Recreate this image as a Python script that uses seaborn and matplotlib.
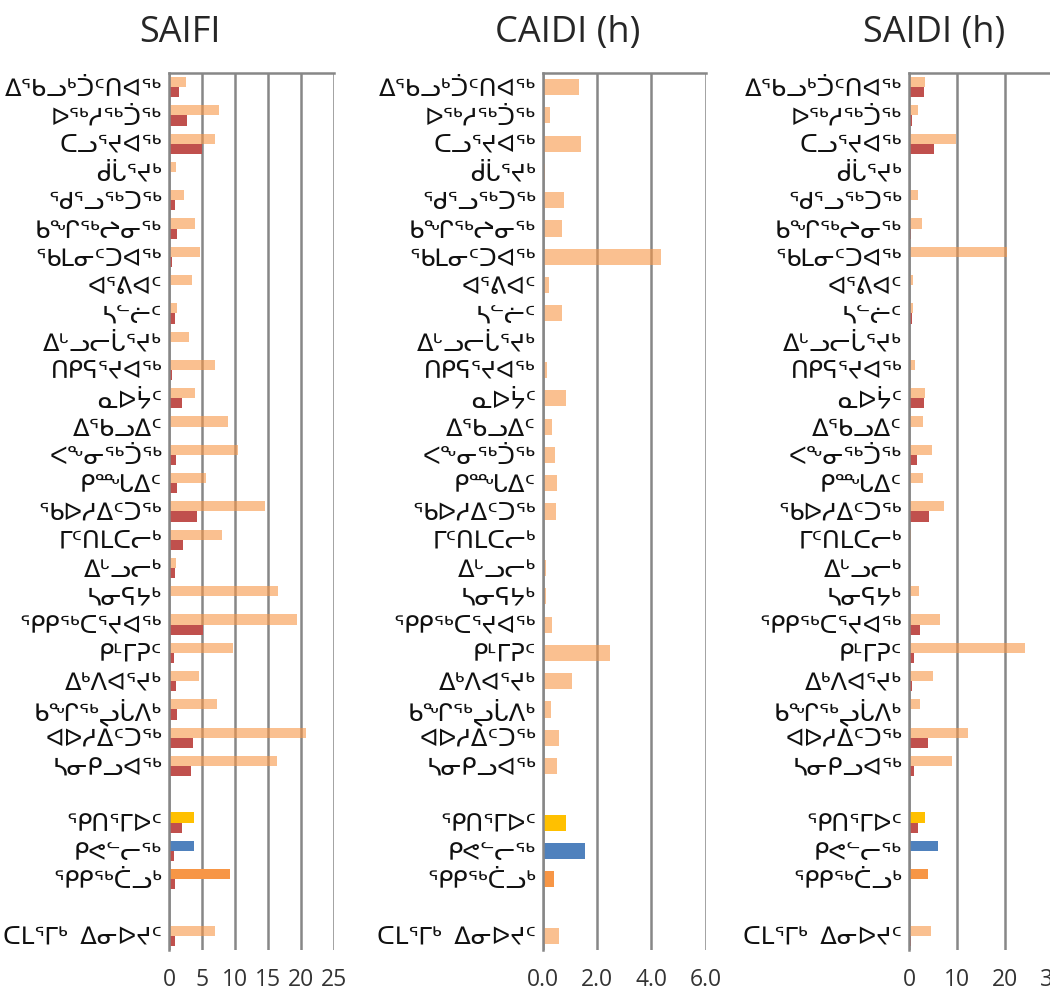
import numpy as np
import pandas as pd
import matplotlib
matplotlib.use("Agg")
import matplotlib.pyplot as plt
from matplotlib.ticker import FormatStrFormatter
import seaborn as sns

# ==================== DATA ====================
communities = ["ᐃᖃᓗᒃᑑᑦᑎᐊᖅ", "ᐅᖅᓱᖅᑑᖅ", "ᑕᓗᕐᔪᐊᖅ", "ᑰᒑᕐᔪᒃ", "ᖁᕐᓗᖅᑐᖅ",
               "ᑲᖏᖅᖠᓂᖅ", "ᖃᒪᓂᑦᑐᐊᖅ", "ᐊᕐᕕᐊᑦ", "ᓴᓪᓖᑦ", "ᐃᒡᓗᓕᒑᕐᔪᒃ",
               "ᑎᑭᕋᕐᔪᐊᖅ", "ᓇᐅᔮᑦ", "ᐃᖃᓗᐃᑦ", "ᐸᖕᓂᖅᑑᖅ", "ᑭᙵᐃᑦ",
               "ᖃᐅᓱᐃᑦᑐᖅ", "ᒥᑦᑎᒪᑕᓕᒃ", "ᐃᒡᓗᓕᒃ", "ᓴᓂᕋᔭᒃ", "ᕿᑭᖅᑕᕐᔪᐊᖅ",
               "ᑭᒻᒥᕈᑦ", "ᐃᒃᐱᐊᕐᔪᒃ", "ᑲᖏᖅᖢᒑᐱᒃ", "ᐊᐅᓱᐃᑦᑐᖅ", "ᓴᓂᑭᓗᐊᖅ"]
regions = ["ᕿᑎᕐᒥᐅᑦ", "ᑭᕙᓪᓕᖅ", "ᕿᑭᖅᑖᓗᒃ"]
total_label = "ᑕᒪᕐᒥᒃ  ᐃᓂᐅᔪᑦ"

places = communities + regions + [total_label]
# blank slots separate communities / regions / total
order = communities + [" "] + regions + ["  "] + [total_label]

saifi_all = [2.5, 7.5, 7.0, 1.0, 2.25, 3.95, 4.7, 3.55, 1.15, 3.0,
             7.0, 4.0, 9.0, 10.4, 5.6, 14.55, 8.0, 1.0, 16.45, 19.4,
             9.75, 4.6, 7.2, 20.7, 16.4,
             3.8, 3.85, 9.2,
             6.9]
saifi_sub = [1.5, 2.75, 5.0, 0.0, 0.95, 1.15, 0.4, 0.0, 0.95, 0.0,
             0.5, 2.0, 0.0, 1.0, 1.15, 4.25, 2.15, 0.95, 0.0, 5.15,
             0.75, 1.05, 1.25, 3.6, 3.35,
             1.9, 0.7, 0.95,
             0.95]
caidi_all = [1.33, 0.26, 1.41, 0.07, 0.79, 0.69, 4.36, 0.23, 0.69, 0.06,
             0.16, 0.85, 0.32, 0.46, 0.52, 0.48, 0.06, 0.10, 0.10, 0.32,
             2.48, 1.09, 0.30, 0.58, 0.52,
             0.85, 1.57, 0.40,
             0.60]
saidi_all = [3.35, 1.95, 9.85, 0.0, 1.8, 2.8, 20.5, 0.9, 0.75, 0.3,
             1.3, 3.4, 3.0, 4.9, 2.95, 7.4, 0.5, 0.1, 2.1, 6.5,
             24.2, 5.0, 2.3, 12.3, 9.0,
             3.3, 6.0, 3.9,
             4.5]
saidi_sub = [3.2, 0.7, 5.2, 0.0, 0.3, 0.35, 0.0, 0.0, 0.7, 0.0,
             0.0, 3.2, 0.0, 1.75, 0.0, 4.25, 0.3, 0.1, 0.0, 2.3,
             1.0, 0.7, 0.3, 4.0, 1.0,
             1.9, 0.3, 0.3,
             0.4]

PEACH = "#F79646"
DARK_RED = "#C0504D"
region_colors = {"ᕿᑎᕐᒥᐅᑦ": "#FFC000", "ᑭᕙᓪᓕᖅ": "#4F81BD", "ᕿᑭᖅᑖᓗᒃ": "#F79646"}
GRID = "#878787"

sns.set_style("white")
plt.rcParams['font.family'] = ['Open Sans', 'DejaVu Sans']


def long_df(first, second=None):
    rows = [(p, v, "all") for p, v in zip(places, first)]
    if second is not None:
        rows += [(p, v, "sub") for p, v in zip(places, second)]
    return pd.DataFrame(rows, columns=["place", "value", "series"])


def draw_panel(ax, df, xmax, step, fmt, width):
    hue_order = [s for s in ["all", "sub"] if s in df["series"].unique()]
    sns.barplot(data=df, y="place", x="value", hue="series", order=order,
                hue_order=hue_order, palette={"all": PEACH, "sub": DARK_RED},
                orient="h", width=width, saturation=1, legend=False,
                linewidth=0, ax=ax)
    # recolour first series: regions get their own colour, rest semi-transparent peach
    for bar in ax.containers[0]:
        idx = int(round(bar.get_y() + bar.get_height() / 2))
        name = order[idx]
        if name in region_colors:
            bar.set_facecolor(region_colors[name])
            bar.set_alpha(1.0)
        else:
            bar.set_facecolor(PEACH)
            bar.set_alpha(0.6)
    ax.set_xlim(0, xmax)
    ax.set_ylim(len(order) - 0.5, -0.5)
    ax.set_xticks(np.arange(0, xmax + step / 2, step))
    ax.xaxis.set_major_formatter(FormatStrFormatter(fmt))
    ax.set_xlabel("")
    ax.set_ylabel("")
    ax.set_axisbelow(True)
    ax.grid(axis="x", color=GRID, lw=1.8)
    ax.grid(axis="y", visible=False)
    for s in ["bottom", "right"]:
        ax.spines[s].set_visible(False)
    for s in ["top", "left"]:
        ax.spines[s].set_visible(True)
        ax.spines[s].set_color(GRID)
        ax.spines[s].set_linewidth(1.8)
    ax.set_yticks(np.arange(-0.5, len(order)), minor=True)
    ax.tick_params(axis="y", which="major", length=0, pad=5, labelsize=17.5,
                   labelcolor="#111111")
    ax.tick_params(axis="y", which="minor", length=6, width=1.8, color=GRID)
    ax.tick_params(axis="x", which="both", length=0, pad=13, labelsize=16.5,
                   labelcolor="#333333", top=False, bottom=True)


fig = plt.figure(figsize=(10.5, 9.94), dpi=100)
bottom, height = 0.0443, 0.8823
ax1 = fig.add_axes([0.161, bottom, 0.157, height])
ax2 = fig.add_axes([0.517, bottom, 0.155, height])
ax3 = fig.add_axes([0.8657, bottom, 0.137, height])

draw_panel(ax1, long_df(saifi_all, saifi_sub), 25, 5, "%d", 0.72)
draw_panel(ax2, long_df(caidi_all), 6, 2, "%.1f", 0.57)
draw_panel(ax3, long_df(saidi_all, saidi_sub), 30, 10, "%d", 0.72)

fig.text(0.171, 0.967, "SAIFI", ha="center", va="center", fontsize=26)
fig.text(0.541, 0.967, "CAIDI (h)", ha="center", va="center", fontsize=26)
fig.text(0.890, 0.967, "SAIDI (h)", ha="center", va="center", fontsize=26)

fig.savefig("out.png", dpi=100)
